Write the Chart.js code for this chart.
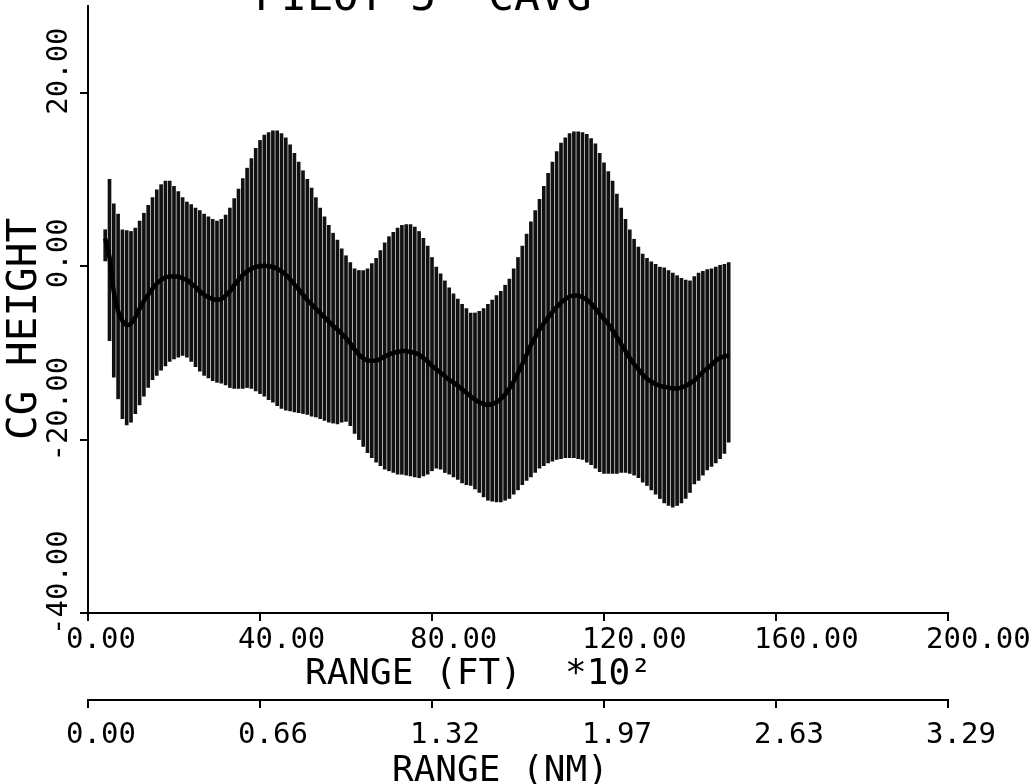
<!DOCTYPE html>
<html>
<head>
<meta charset="utf-8">
<title>PILOT 5 CAVG</title>
<script src="https://cdn.jsdelivr.net/npm/chart.js@4.4.1/dist/chart.umd.min.js"></script>
<style>
  html, body { margin: 0; padding: 0; background: #fff; }
  canvas { display: block; }
</style>
</head>
<body>
<canvas id="cgChart" width="1034" height="784"></canvas>
<script>
// range in ft x 10^2, one bar per sample
var rangeFt = [
  4, 5, 6, 7, 8, 9, 10, 11, 12, 13,
  14, 15, 16, 17, 18, 19, 20, 21, 22, 23,
  24, 25, 26, 27, 28, 29, 30, 31, 32, 33,
  34, 35, 36, 37, 38, 39, 40, 41, 42, 43,
  44, 45, 46, 47, 48, 49, 50, 51, 52, 53,
  54, 55, 56, 57, 58, 59, 60, 61, 62, 63,
  64, 65, 66, 67, 68, 69, 70, 71, 72, 73,
  74, 75, 76, 77, 78, 79, 80, 81, 82, 83,
  84, 85, 86, 87, 88, 89, 90, 91, 92, 93,
  94, 95, 96, 97, 98, 99, 100, 101, 102, 103,
  104, 105, 106, 107, 108, 109, 110, 111, 112, 113,
  114, 115, 116, 117, 118, 119, 120, 121, 122, 123,
  124, 125, 126, 127, 128, 129, 130, 131, 132, 133,
  134, 135, 136, 137, 138, 139, 140, 141, 142, 143,
  144, 145, 146, 147, 148, 149
];

// top of each vertical line (CG height)
var cgHigh = [
  4.2, 10, 7.2, 6.0, 4.2, 4.1, 4.0, 4.4, 5.2, 6.1,
  7.0, 7.9, 8.8, 9.4, 9.8, 9.8, 9.2, 8.6, 7.9, 7.4,
  7.1, 6.7, 6.4, 6.0, 5.7, 5.4, 5.2, 5.4, 5.9, 6.7,
  7.8, 8.9, 10.1, 11.3, 12.4, 13.6, 14.5, 15.1, 15.4, 15.6,
  15.6, 15.3, 14.8, 14.0, 13.0, 12.0, 11.0, 10.0, 9.0, 7.9,
  6.7, 5.7, 4.7, 3.8, 3.0, 2.0, 1.2, 0.4, -0.3, -0.5,
  -0.5, -0.3, 0.3, 0.9, 1.8, 2.7, 3.4, 3.9, 4.4, 4.7,
  4.8, 4.8, 4.5, 4.0, 3.2, 2.3, 1.0, 0.0, -0.9, -1.7,
  -2.5, -3.2, -3.8, -4.4, -4.9, -5.4, -5.4, -5.2, -4.9, -4.4,
  -3.9, -3.4, -2.9, -2.2, -1.5, -0.3, 1.0, 2.3, 3.7, 5.1,
  6.4, 7.7, 9.2, 10.7, 12.0, 13.2, 14.2, 14.8, 15.3, 15.5,
  15.5, 15.4, 15.2, 14.7, 14.1, 13.0, 11.9, 10.9, 9.8, 8.3,
  6.7, 5.4, 4.2, 3.1, 2.2, 1.4, 0.9, 0.5, 0.2, 0.0,
  -0.2, -0.5, -0.8, -1.1, -1.4, -1.6, -1.7, -1.2, -0.8, -0.6,
  -0.4, -0.3, 0.0, 0.1, 0.2, 0.4
];

// bottom of each vertical line
var cgLow = [
  0.6, -8.6, -12.8, -15.3, -17.6, -18.3, -18.0, -17.0, -16.0, -15.0,
  -14.0, -13.1, -12.6, -12.0, -11.5, -11.0, -10.7, -10.5, -10.3, -10.5,
  -11.0, -11.6, -12.1, -12.6, -12.9, -13.2, -13.4, -13.5, -13.7, -14.0,
  -14.1, -14.1, -14.1, -14.0, -14.1, -14.4, -14.7, -15.0, -15.4, -15.7,
  -16.1, -16.4, -16.6, -16.7, -16.8, -16.9, -17.0, -17.1, -17.3, -17.4,
  -17.6, -17.8, -18.0, -18.1, -18.2, -18.0, -17.9, -18.4, -19.3, -20.0,
  -20.8, -21.5, -22.1, -22.6, -23.0, -23.4, -23.6, -23.8, -24.0, -24.0,
  -24.1, -24.2, -24.3, -24.4, -24.2, -24.0, -23.6, -23.3, -23.4, -23.8,
  -24.0, -24.3, -24.6, -25.0, -25.2, -25.3, -25.7, -26.1, -26.6, -27.0,
  -27.1, -27.2, -27.2, -27.0, -26.8, -26.3, -25.8, -25.2, -24.7, -24.3,
  -23.8, -23.3, -23.0, -22.7, -22.5, -22.3, -22.2, -22.1, -22.1, -22.1,
  -22.2, -22.3, -22.6, -22.9, -23.3, -23.7, -23.9, -23.9, -23.9, -23.9,
  -23.8, -23.8, -23.9, -24.1, -24.4, -24.9, -25.3, -25.8, -26.3, -26.8,
  -27.3, -27.6, -27.8, -27.6, -27.3, -26.8, -26.1, -25.1, -24.7, -24.1,
  -23.5, -23.1, -22.7, -22.2, -21.6, -20.3
];

// average CG height (thick line)
var cgMean = [
  3.2, 1.0, -3.0, -5.2, -6.3, -6.8, -6.6, -5.9, -4.9, -4.0,
  -3.3, -2.6, -2.0, -1.6, -1.3, -1.2, -1.2, -1.2, -1.4, -1.6,
  -2.0, -2.4, -2.9, -3.3, -3.6, -3.8, -3.9, -3.8, -3.4, -2.9,
  -2.2, -1.6, -1.0, -0.6, -0.3, -0.1, 0.0, 0.0, 0.0, -0.1,
  -0.3, -0.6, -1.0, -1.5, -2.1, -2.7, -3.3, -3.9, -4.4, -4.9,
  -5.4, -5.9, -6.4, -6.9, -7.3, -7.8, -8.3, -8.9, -9.6, -10.2,
  -10.6, -10.9, -10.9, -10.9, -10.7, -10.4, -10.2, -10.0, -9.9, -9.8,
  -9.8, -9.9, -10.0, -10.2, -10.6, -11.0, -11.5, -11.9, -12.3, -12.7,
  -13.1, -13.4, -13.8, -14.2, -14.6, -15.0, -15.4, -15.7, -15.9, -16.0,
  -15.9, -15.7, -15.3, -14.8, -14.1, -13.3, -12.3, -11.3, -10.2, -9.1,
  -8.2, -7.3, -6.6, -5.9, -5.3, -4.7, -4.2, -3.8, -3.5, -3.4,
  -3.4, -3.6, -3.9, -4.3, -4.9, -5.5, -6.1, -6.7, -7.4, -8.2,
  -9.0, -9.8, -10.6, -11.3, -11.9, -12.5, -13.0, -13.3, -13.6, -13.8,
  -13.9, -14.0, -14.1, -14.1, -14.0, -13.8, -13.5, -13.2, -12.7, -12.2,
  -11.8, -11.4, -10.9, -10.6, -10.4, -10.3
];

// axis ticks and their labels
var yTicks = [-40, -20, 0, 20];
var yLabels = ['-40.00', '-20.00', '0.00', '20.00'];
var ftTicks = [0, 40, 80, 120, 160, 200];
var ftLabels = ['0.00', '40.00', '80.00', '120.00', '160.00', '200.00'];
var nmLabels = ['0.00', '0.66', '1.32', '1.97', '2.63', '3.29'];

var FONT = '"DejaVu Sans Mono", monospace';

var bandData = rangeFt.map(function (x, i) { return { x: x, y: [cgLow[i], cgHigh[i]] }; });
var meanData = rangeFt.map(function (x, i) { return { x: x, y: cgMean[i] }; });

// texts the scales can't place the way the plotter did
var plotterText = {
    id: 'plotterText',
    afterDraw: function (chart) {
        var ctx = chart.ctx;
        var yScale = chart.scales.y;
        ctx.save();
        ctx.fillStyle = '#000';

        // y tick labels: rotated, starting a bit below the tick
        ctx.font = '29px ' + FONT;
        ctx.textAlign = 'left';
        ctx.textBaseline = 'middle';
        yTicks.forEach(function (v, i) {
            ctx.save();
            ctx.translate(59, yScale.getPixelForValue(v) + 22);
            ctx.rotate(-Math.PI / 2);
            ctx.fillText(yLabels[i], 0, 0);
            ctx.restore();
        });

        // y title
        ctx.font = '41px ' + FONT;
        ctx.save();
        ctx.translate(25, 440);
        ctx.rotate(-Math.PI / 2);
        ctx.fillText('CG HEIGHT', 0, 0);
        ctx.restore();

        // title (cut by the top edge)
        ctx.textBaseline = 'alphabetic';
        ctx.font = '43px ' + FONT;
        ctx.fillText('PILOT 5  CAVG', 255, 10);

        // x titles
        ctx.font = '36px ' + FONT;
        ctx.fillText('RANGE (FT)  *10\u00B2', 305, 684);
        ctx.fillText('RANGE (NM)', 392, 781);
        ctx.restore();
    }
};

function axisTicks(values) {
    return function (scale) {
        scale.ticks = values.map(function (v) { return { value: v }; });
    };
}

var tickGrid = { display: true, drawOnChartArea: false, drawTicks: true, tickLength: 8, color: '#000', lineWidth: 2 };
var axisBorder = { display: true, color: '#000', width: 2 };

new Chart(document.getElementById('cgChart'), {
    type: 'bar',
    data: {
        datasets: [{
            type: 'line',
            label: 'CAVG',
            data: meanData,
            borderColor: '#000',
            borderWidth: 4.5,
            pointRadius: 0,
            tension: 0.3,
            order: 0
        },
        {
            type: 'bar',
            label: 'CG HEIGHT',
            data: bandData,
            backgroundColor: '#111',
            barThickness: 3,
            order: 1
        }]
    },
    options: {
        responsive: false,
        animation: false,
        layout: { padding: { left: 0, right: 86, top: 6, bottom: 0 } },
        plugins: { legend: { display: false }, tooltip: { enabled: false } },
        scales: {
            x: {
                type: 'linear', position: 'bottom', weight: 0,
                min: 0, max: 200, offset: false,
                afterBuildTicks: axisTicks(ftTicks),
                afterFit: function (s) { s.height = 87; s.paddingLeft = 0; s.paddingRight = 0; },
                border: axisBorder,
                grid: Object.assign({ offset: false }, tickGrid),
                ticks: {
                    color: '#000', font: { family: FONT, size: 29 },
                    align: 'start', labelOffset: -22, padding: 2,
                    maxRotation: 0, autoSkip: false,
                    callback: function (v, i) { return ftLabels[i]; }
                }
            },
            x2: {
                type: 'linear', position: 'bottom', weight: 1,
                min: 0, max: 200, offset: false,
                afterBuildTicks: axisTicks(ftTicks),
                afterFit: function (s) { s.height = 84; s.paddingLeft = 0; s.paddingRight = 0; },
                border: axisBorder,
                grid: Object.assign({ offset: false }, tickGrid),
                ticks: {
                    color: '#000', font: { family: FONT, size: 29 },
                    align: 'start', labelOffset: -22, padding: 10,
                    maxRotation: 0, autoSkip: false,
                    callback: function (v, i) { return nmLabels[i]; }
                }
            },
            y: {
                type: 'linear', position: 'left',
                min: -40, max: 30,
                afterBuildTicks: axisTicks(yTicks),
                afterFit: function (s) { s.width = 88; s.paddingTop = 0; s.paddingBottom = 0; },
                border: axisBorder,
                grid: tickGrid,
                ticks: { display: false }
            }
        }
    },
    plugins: [plotterText]
});
</script>
</body>
</html>
